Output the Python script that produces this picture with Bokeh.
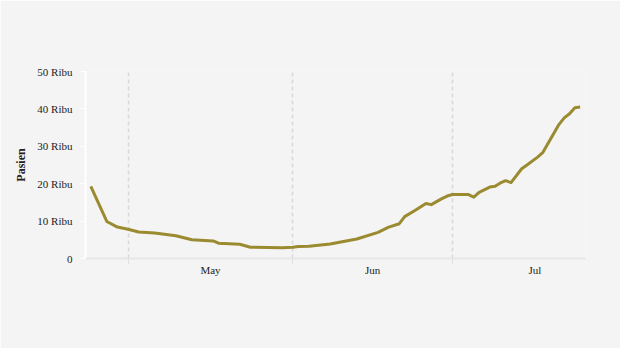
import pandas as pd
from bokeh.plotting import figure
from bokeh.models import Range1d, FixedTicker, DatetimeTickFormatter
from bokeh.embed import file_html
from bokeh.resources import INLINE

# ---- data ----
dates = [
    "2021-04-24", "2021-04-27", "2021-04-29", "2021-05-01", "2021-05-03",
    "2021-05-06", "2021-05-10", "2021-05-13", "2021-05-17", "2021-05-18",
    "2021-05-22", "2021-05-24", "2021-05-30", "2021-06-01", "2021-06-02",
    "2021-06-04", "2021-06-08", "2021-06-11", "2021-06-13", "2021-06-17",
    "2021-06-19", "2021-06-21", "2021-06-22", "2021-06-24", "2021-06-26",
    "2021-06-27", "2021-06-29", "2021-06-30", "2021-07-01", "2021-07-04",
    "2021-07-05", "2021-07-06", "2021-07-08", "2021-07-09", "2021-07-10",
    "2021-07-11", "2021-07-12", "2021-07-14", "2021-07-15", "2021-07-17",
    "2021-07-18", "2021-07-21", "2021-07-22", "2021-07-23", "2021-07-24",
    "2021-07-25",
]
patients = [
    19300, 9900, 8400, 7800, 7100,
    6800, 6100, 5000, 4700, 4100,
    3800, 3000, 2900, 3000, 3200,
    3300, 3900, 4700, 5200, 7000,
    8400, 9300, 11200, 12900, 14700,
    14400, 16000, 16700, 17100, 17100,
    16400, 17700, 19100, 19300, 20200,
    20800, 20300, 24000, 25000, 27100,
    28400, 35800, 37600, 38700, 40300,
    40500,
]
y_ticks = [0, 10000, 20000, 30000, 40000, 50000]
y_tick_labels = ["0", "10 Ribu", "20 Ribu", "30 Ribu", "40 Ribu", "50 Ribu"]
month_starts = ["2021-05-01", "2021-06-01", "2021-07-01"]
month_ends = ["2021-06-01", "2021-07-01", "2021-08-01"]
x_start, x_end = "2021-04-23", "2021-07-26"
y_label = "Pasien"

# ---- build ----
def ms(d):
    return pd.Timestamp(d).value / 1e6

x = pd.to_datetime(dates)
start_ms = [ms(d) for d in month_starts]
mid_ms = [(ms(a) + ms(b)) / 2 for a, b in zip(month_starts, month_ends)]

BG = "#f4f4f4"
FONT = "Liberation Serif"
TXT = "#222222"

p = figure(width=620, height=348, x_axis_type="datetime",
           output_backend="svg", toolbar_location=None,
           x_range=Range1d(ms(x_start), ms(x_end)),
           y_range=Range1d(0, 50000),
           min_border_left=85, min_border_right=35,
           min_border_top=71, min_border_bottom=90)
p.background_fill_color = BG
p.border_fill_color = BG
p.outline_line_color = None

p.line(x, patients, line_color="#9a8a30", line_width=3, line_join="round")

# x axis
xa = p.xaxis[0]
xa.ticker = FixedTicker(ticks=mid_ms, minor_ticks=start_ms)
xa.formatter = DatetimeTickFormatter(months="%b", days="%b", hours="%b")
xa.axis_line_color = "#e6e6e6"
xa.axis_line_width = 2
xa.major_tick_line_color = None
xa.major_tick_out = 0
xa.major_tick_in = 0
xa.minor_tick_line_color = "#e0e0e0"
xa.minor_tick_line_width = 1
xa.minor_tick_out = 6
xa.minor_tick_in = 0
xa.major_label_standoff = -1
xa.major_label_text_font = FONT
xa.major_label_text_font_size = "11px"
xa.major_label_text_color = TXT

# y axis
ya = p.yaxis[0]
ya.ticker = FixedTicker(ticks=y_ticks)
ya.major_label_overrides = {t: l for t, l in zip(y_ticks, y_tick_labels)}
ya.axis_line_color = "white"
ya.axis_line_width = 2
ya.major_tick_line_color = "white"
ya.major_tick_out = 5
ya.major_tick_in = 0
ya.minor_tick_line_color = None
ya.major_label_standoff = 8
ya.major_label_text_font = FONT
ya.major_label_text_font_size = "11px"
ya.major_label_text_color = TXT
ya.axis_label = y_label
ya.axis_label_text_font = FONT
ya.axis_label_text_font_style = "bold"
ya.axis_label_text_font_size = "12px"
ya.axis_label_text_color = TXT
ya.axis_label_standoff = 6

# grids
p.ygrid.grid_line_color = None
p.xgrid.ticker = FixedTicker(ticks=start_ms)
p.xgrid.grid_line_color = "#d8d8d8"
p.xgrid.grid_line_width = 1.5
p.xgrid.grid_line_dash = "4 3"

open("out.html", "w").write(file_html(p, INLINE))
